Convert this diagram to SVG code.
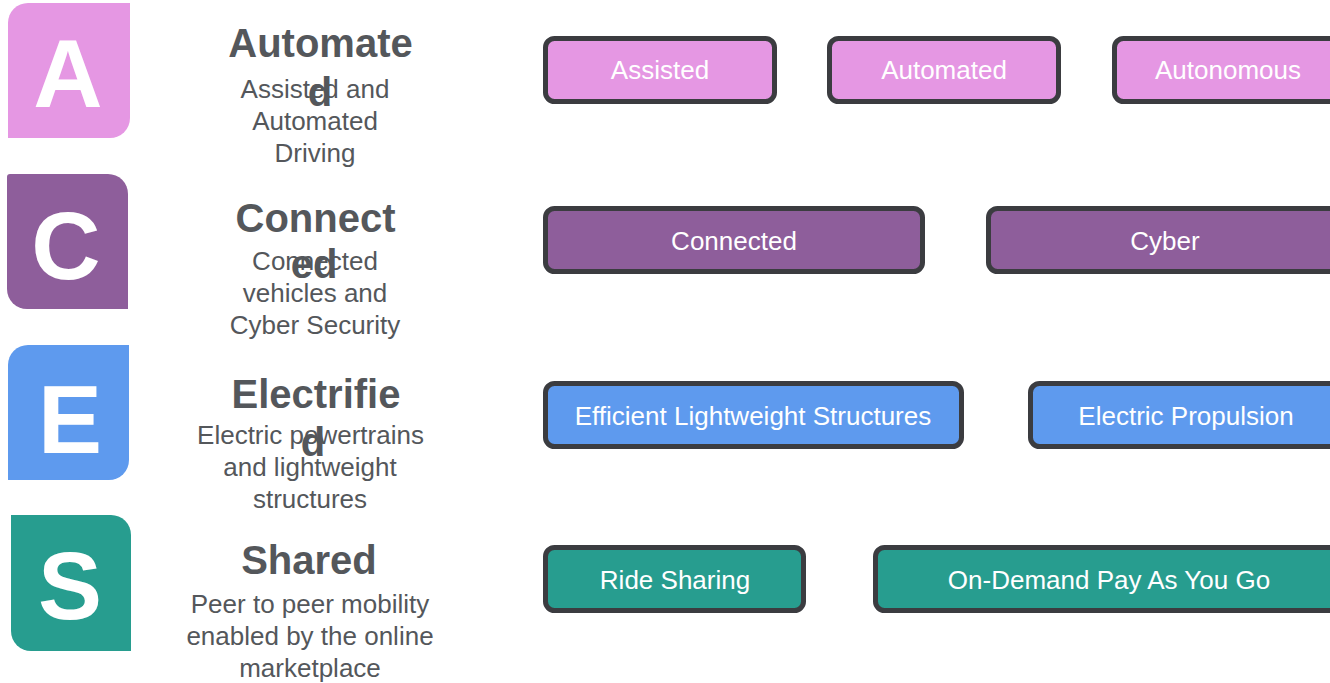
<svg xmlns="http://www.w3.org/2000/svg" width="1330" height="683" viewBox="0 0 1330 683">
<style>
.letter{font-family:"Liberation Sans",Arial,sans-serif;font-weight:bold;font-size:96px;fill:#ffffff;text-anchor:middle}
.title{font-family:"Liberation Sans",Arial,sans-serif;font-weight:bold;font-size:40px;fill:#54575b;text-anchor:middle}
.desc{font-family:"Liberation Sans",Arial,sans-serif;font-size:26px;fill:#54575b;text-anchor:middle}
.box{stroke:#3b3c40;stroke-width:5}
.lbl{font-family:"Liberation Sans",Arial,sans-serif;font-size:26px;fill:#ffffff;text-anchor:middle}
.pa{fill:#e597e3}.pc{fill:#8e5e9b}.pe{fill:#5e9aee}.ps{fill:#279d8f}
</style>
<rect width="1330" height="683" fill="#ffffff"/>

<g id="badge-A">
<path class="pa" d="M28,3 H130 V118 A20,20 0 0 1 110,138 H8 V23 A20,20 0 0 1 28,3 Z"/>
<text class="letter" x="68" y="107">A</text>
</g>
<g id="badge-C">
<path class="pc" d="M10,174 H108 A20,20 0 0 1 128,194 V309 H27 A20,20 0 0 1 7,289 V177 A3,3 0 0 1 10,174 Z"/>
<text class="letter" x="66" y="279">C</text>
</g>
<g id="badge-E">
<path class="pe" d="M28,345 H129 V460 A20,20 0 0 1 109,480 H8 V365 A20,20 0 0 1 28,345 Z"/>
<text class="letter" x="70" y="453">E</text>
</g>
<g id="badge-S">
<path class="ps" d="M11,515 H111 A20,20 0 0 1 131,535 V651 H31 A20,20 0 0 1 11,631 Z"/>
<text class="letter" x="70" y="619">S</text>
</g>

<g id="label-A">
<text class="title" x="320.5" y="57">Automate</text>
<text class="desc" x="315" y="98">Assisted and</text>
<text class="desc" x="315" y="130">Automated</text>
<text class="desc" x="315" y="162">Driving</text>
<text class="title" x="320" y="106">d</text>
</g>
<g id="label-C">
<text class="title" x="315.5" y="232">Connect</text>
<text class="desc" x="315" y="270">Connected</text>
<text class="desc" x="315" y="302">vehicles and</text>
<text class="desc" x="315" y="334">Cyber Security</text>
<text class="title" x="314" y="278">ed</text>
</g>
<g id="label-E">
<text class="title" x="316" y="408">Electrifie</text>
<text class="desc" x="310.5" y="444">Electric powertrains</text>
<text class="desc" x="310" y="476">and lightweight</text>
<text class="desc" x="310" y="508">structures</text>
<text class="title" x="313" y="456">d</text>
</g>
<g id="label-S">
<text class="title" x="309" y="574">Shared</text>
<text class="desc" x="310" y="613">Peer to peer mobility</text>
<text class="desc" x="310" y="645">enabled by the online</text>
<text class="desc" x="310" y="677">marketplace</text>
</g>

<g id="node-assisted">
<rect class="box pa" x="545.5" y="38.5" width="229" height="63" rx="9"/>
<text class="lbl" x="660" y="79">Assisted</text>
</g>
<g id="node-automated">
<rect class="box pa" x="829.5" y="38.5" width="229" height="63" rx="9"/>
<text class="lbl" x="944" y="79">Automated</text>
</g>
<g id="node-autonomous">
<rect class="box pa" x="1114.5" y="38.5" width="229" height="63" rx="9"/>
<text class="lbl" x="1228" y="79">Autonomous</text>
</g>

<g id="node-connected">
<rect class="box pc" x="545.5" y="208.5" width="377" height="63" rx="9"/>
<text class="lbl" x="734" y="250">Connected</text>
</g>
<g id="node-cyber">
<rect class="box pc" x="988.5" y="208.5" width="355" height="63" rx="9"/>
<text class="lbl" x="1165" y="250">Cyber</text>
</g>

<g id="node-efficient">
<rect class="box pe" x="545.5" y="383.5" width="416" height="63" rx="9"/>
<text class="lbl" x="753" y="425">Efficient Lightweight Structures</text>
</g>
<g id="node-propulsion">
<rect class="box pe" x="1030.5" y="383.5" width="313" height="63" rx="9"/>
<text class="lbl" x="1186" y="425">Electric Propulsion</text>
</g>

<g id="node-ride">
<rect class="box ps" x="545.5" y="547.5" width="258" height="63" rx="9"/>
<text class="lbl" x="675" y="589">Ride Sharing</text>
</g>
<g id="node-ondemand">
<rect class="box ps" x="875.5" y="547.5" width="468" height="63" rx="9"/>
<text class="lbl" x="1109" y="589">On-Demand Pay As You Go</text>
</g>

<g id="connectors"></g>
</svg>
